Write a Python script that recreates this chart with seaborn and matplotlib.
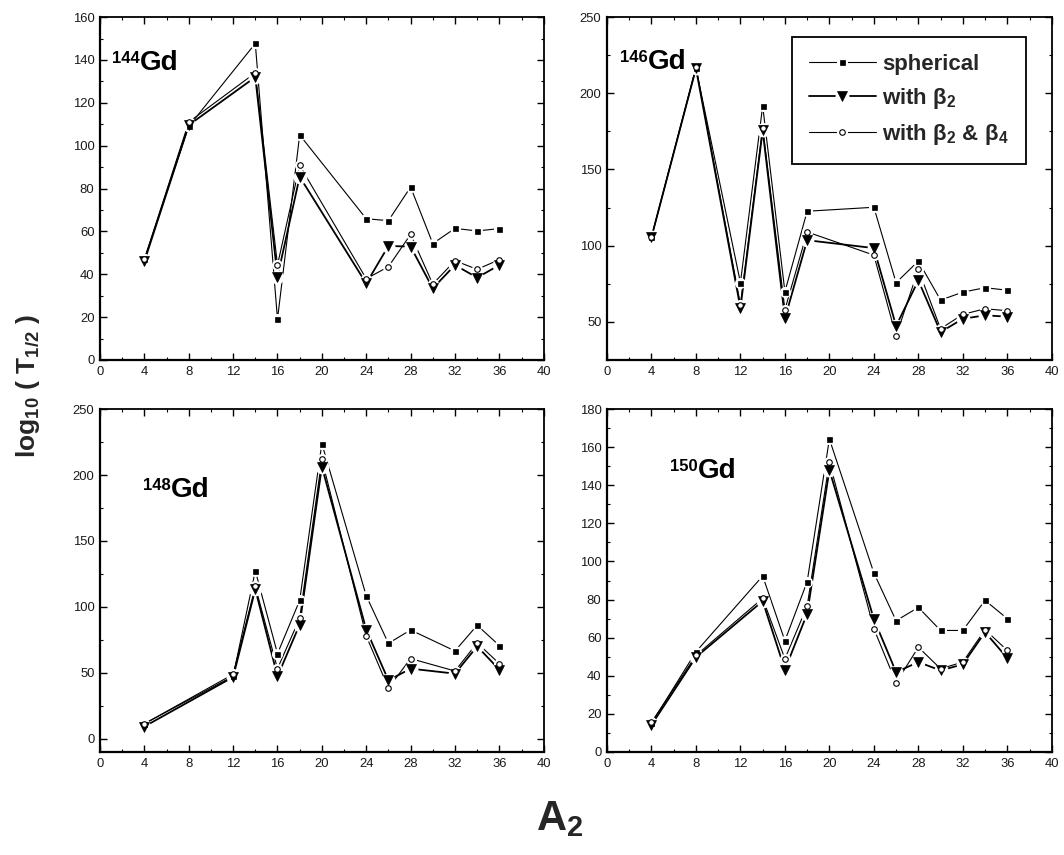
import matplotlib
matplotlib.use("Agg")
import matplotlib.pyplot as plt
from matplotlib.ticker import MultipleLocator
from matplotlib.lines import Line2D
from matplotlib.legend_handler import HandlerTuple
import seaborn as sns
import pandas as pd

# ---- data: log10(T1/2) vs A2 for the Gd isotopes ----
a2_144 = [4, 8, 14, 16, 18, 24, 26, 28, 30, 32, 34, 36]
sph_144 = [47, 109, 147.7, 19, 105, 65.9, 65, 80.7, 54.3, 61.4, 60.2, 61.3]
b2_144 = [46, 109.6, 132, 38.9, 85.5, 35.7, 53.2, 52.9, 33.4, 44.3, 38.4, 44.3]
b24_144 = [47, 111, 134, 44.3, 90.8, 37.9, 43.5, 58.6, 35.4, 46.3, 42.3, 46.8]

a2_146 = [4, 8, 12, 14, 16, 18, 24, 26, 28, 30, 32, 34, 36]
sph_146 = [105.6, 216.5, 75.7, 191.7, 69.8, 122.6, 125.2, 75.7, 89.9, 64.3, 69.5, 72.4, 70.8]
b2_146 = [105.6, 216.3, 59, 175.7, 52.3, 103.6, 98.4, 47.3, 77.2, 43.3, 52, 54.3, 53.4]
b24_146 = [105.6, 217.2, 61.3, 177.5, 58, 109, 93.8, 40.7, 84.4, 45.5, 54.9, 58.6, 57.3]

a2_148 = [4, 12, 14, 16, 18, 20, 24, 26, 28, 32, 34, 36]
sph_148 = [11.4, 47.5, 127.4, 64.6, 104.9, 223.9, 108.4, 72.4, 82.5, 66.6, 86.1, 70.7]
b2_148 = [9.3, 46.8, 113.4, 47.3, 86.6, 206.4, 82.8, 44.3, 53.2, 49.4, 70.1, 52.4]
b24_148 = [11.4, 48.9, 115.5, 53.2, 91.4, 212, 78, 38.5, 60.8, 51.4, 72.7, 57]

a2_150 = [4, 8, 14, 16, 18, 20, 24, 26, 28, 30, 32, 34, 36]
sph_150 = [15, 52.6, 92.4, 58.4, 89.4, 164.3, 94, 68.9, 75.9, 63.8, 63.8, 79.6, 70]
b2_150 = [14.2, 49.8, 79.2, 43.2, 72.6, 148, 69.8, 41.9, 47.2, 42.8, 46, 62.9, 49.3]
b24_150 = [15.6, 50.7, 80.7, 48.9, 76.6, 152.3, 64.7, 36.3, 55, 43.7, 47.2, 64.2, 53.3]

series_names = ["spherical", "with β$_\\mathbf{2}$", "with β$_\\mathbf{2}$ & β$_\\mathbf{4}$"]
isotopes = ["144", "146", "148", "150"]

panels = [
    (a2_144, [sph_144, b2_144, b24_144]),
    (a2_146, [sph_146, b2_146, b24_146]),
    (a2_148, [sph_148, b2_148, b24_148]),
    (a2_150, [sph_150, b2_150, b24_150]),
]

# ---- styling ----
sns.set_theme(style="ticks")
plt.rcParams["font.family"] = ["Liberation Sans", "DejaVu Sans"]
plt.rcParams["mathtext.fontset"] = "custom"
plt.rcParams["mathtext.rm"] = "Liberation Sans"
plt.rcParams["mathtext.it"] = "Liberation Sans:italic"
plt.rcParams["mathtext.bf"] = "Liberation Sans:bold"

styles = [
    dict(marker="s", ms=3.6, mfc="black", mec="black", mew=0.5, lw=0.8),
    dict(marker="v", ms=7.0, mfc="black", mec="black", mew=0.5, lw=1.3),
    dict(marker="o", ms=4.0, mfc="white", mec="black", mew=0.8, lw=0.8),
]
halo_ms = [8.0, 10.0, 8.0]

fig = plt.figure(figsize=(10.64, 8.55), dpi=100)
positions = [
    [0.094, 0.579, 0.417, 0.401],
    [0.5705, 0.579, 0.418, 0.401],
    [0.094, 0.1205, 0.417, 0.401],
    [0.5705, 0.1205, 0.418, 0.401],
]
ylims = [(0, 160), (25, 250), (-10, 250), (0, 180)]
ymajor = [20, 50, 50, 20]
yminor = [10, 25, 25, 10]
# left edge / baseline of the "Gd" symbol in axes coordinates
label_pos = [(0.090, 0.845), (0.0926, 0.848), (0.160, 0.743), (0.2047, 0.800)]

legend_handles = []
for k, (pos, (xs, ys_list)) in enumerate(zip(positions, panels)):
    ax = fig.add_axes(pos)
    df = pd.DataFrame({"A2": xs})
    for i, ys in enumerate(ys_list):
        df[f"s{i}"] = ys
    # connecting lines
    for i in range(3):
        sns.lineplot(data=df, x="A2", y=f"s{i}", ax=ax, color="black",
                     lw=styles[i]["lw"], zorder=2, sort=False)
    # white gaps around each point
    for i in range(3):
        ax.plot(df["A2"], df[f"s{i}"], ls="none", marker="o", ms=halo_ms[i],
                mfc="white", mec="none", zorder=3)
    # point symbols
    for i in range(3):
        st = styles[i]
        ax.plot(df["A2"], df[f"s{i}"], ls="none", marker=st["marker"], ms=st["ms"],
                mfc=st["mfc"], mec=st["mec"], mew=st["mew"], zorder=4 + i)

    ax.set_xlim(0, 40)
    ax.set_ylim(*ylims[k])
    ax.xaxis.set_major_locator(MultipleLocator(4))
    ax.xaxis.set_minor_locator(MultipleLocator(2))
    ax.yaxis.set_major_locator(MultipleLocator(ymajor[k]))
    ax.yaxis.set_minor_locator(MultipleLocator(yminor[k]))
    ax.tick_params(which="both", direction="in", top=True, right=True,
                   labeltop=False, labelright=False, color="black")
    ax.tick_params(which="major", length=5, width=1.0, labelsize=9.4,
                   labelcolor="#1a1a1a", pad=4)
    ax.tick_params(which="minor", length=2.5, width=0.8)
    ax.set_xlabel("")
    ax.set_ylabel("")
    for sp in ax.spines.values():
        sp.set_visible(True)
        sp.set_linewidth(1.3)
        sp.set_color("black")
    ax.spines["left"].set_linewidth(1.6)
    ax.spines["bottom"].set_linewidth(1.6)

    lx, ly = label_pos[k]
    ax.text(lx, ly, "Gd", transform=ax.transAxes, fontsize=20, fontweight="bold",
            ha="left", va="baseline", color="black")
    ax.annotate(isotopes[k], xy=(lx, ly), xycoords="axes fraction",
                xytext=(-0.5, 5), textcoords="offset points", fontsize=12,
                fontweight="bold", ha="right", va="baseline", color="black")

    if k == 1:
        for i in range(3):
            st = styles[i]
            line = Line2D([], [], color="black", lw=st["lw"])
            halo = Line2D([], [], ls="none", marker="o", ms=halo_ms[i], mfc="white", mec="none")
            mark = Line2D([], [], ls="none", marker=st["marker"], ms=st["ms"],
                          mfc=st["mfc"], mec=st["mec"], mew=st["mew"])
            legend_handles.append((line, halo, mark))
        leg = ax.legend(legend_handles, series_names, loc="upper left",
                        bbox_to_anchor=(0.417, 0.942), borderaxespad=0,
                        handler_map={tuple: HandlerTuple(ndivide=1, pad=0)},
                        prop={"weight": "bold", "size": 16}, handlelength=3.0,
                        handletextpad=0.3, labelspacing=0.5, borderpad=0.75,
                        frameon=True, fancybox=False, framealpha=1)
        leg.get_frame().set_edgecolor("black")
        leg.get_frame().set_linewidth(1.3)

fig.text(0.026, 0.548, r"log$_{\mathbf{10}}$ ( T$_{\mathbf{1/2}}$ )", rotation=90,
         fontsize=19, fontweight="bold", ha="center", va="center")
fig.text(0.526, 0.029, r"A$_{\mathbf{2}}$", fontsize=30, fontweight="bold",
         ha="center", va="baseline")

fig.savefig("out.png", dpi=100)
